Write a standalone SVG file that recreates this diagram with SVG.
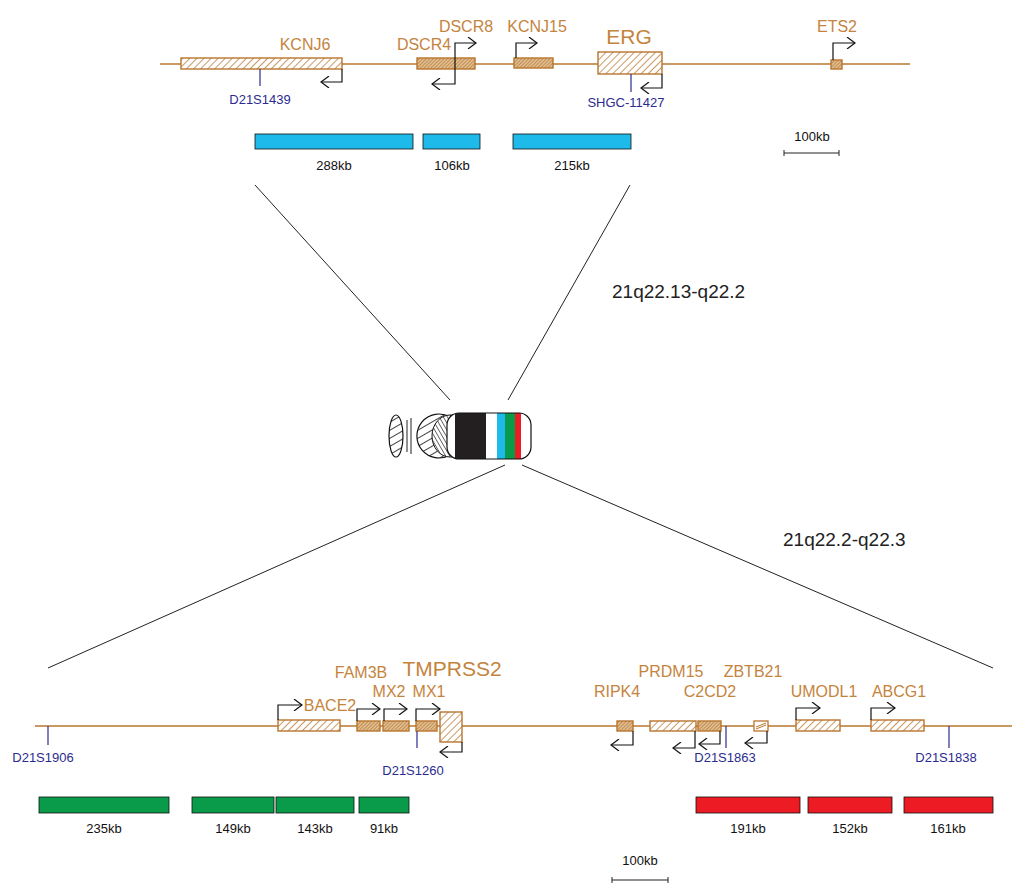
<svg xmlns="http://www.w3.org/2000/svg" width="1032" height="895" viewBox="0 0 1032 895">
<style>
.ax{stroke:#b8762e;stroke-width:1.3;fill:none}
.g{fill:url(#h);stroke:#b8762e;stroke-width:1.4}
.gf{fill:url(#hf);stroke:#b8762e;stroke-width:1.4}
.ar{stroke:#111;stroke-width:1.2;fill:none;marker-end:url(#a)}
.mk{stroke:#2b2b8f;stroke-width:1.2}
.gl{font-family:"Liberation Sans",Arial,sans-serif;font-size:16px;fill:#c4843e;text-anchor:middle}
.big{font-size:21px}
.ml{font-family:"Liberation Sans",Arial,sans-serif;font-size:13px;fill:#2b2b8f;text-anchor:middle}
.kb{font-family:"Liberation Sans",Arial,sans-serif;font-size:13px;fill:#111;text-anchor:middle}
.rg{font-family:"Liberation Sans",Arial,sans-serif;font-size:19px;fill:#222}
.ln{stroke:#222;stroke-width:1;fill:none}
</style>
<defs>
<pattern id="h" width="5" height="5" patternUnits="userSpaceOnUse" patternTransform="rotate(45)"><rect width="5" height="5" fill="#fff"/><line x1="0" y1="0" x2="0" y2="5" stroke="#b8762e" stroke-width="1.5"/></pattern>
<pattern id="hf" width="2.5" height="2.5" patternUnits="userSpaceOnUse" patternTransform="rotate(45)"><rect width="2.5" height="2.5" fill="#e0bb8c"/><line x1="0" y1="0" x2="0" y2="2.5" stroke="#a86a2a" stroke-width="1"/></pattern>
<pattern id="hk" width="7" height="7" patternUnits="userSpaceOnUse" patternTransform="rotate(60)"><rect width="7" height="7" fill="#fff"/><line x1="0" y1="0" x2="0" y2="7" stroke="#111" stroke-width="1.6"/></pattern>
<pattern id="hk2" width="3.5" height="3.5" patternUnits="userSpaceOnUse" patternTransform="rotate(-30)"><rect width="3.5" height="3.5" fill="#fff"/><line x1="0" y1="0" x2="0" y2="3.5" stroke="#111" stroke-width="1.2"/></pattern>
<marker id="a" markerWidth="12" markerHeight="12" refX="10" refY="6" orient="auto" markerUnits="userSpaceOnUse"><polyline points="2,0 10,6 2,12" fill="none" stroke="#111" stroke-width="1.2"/></marker>
<clipPath id="cc"><rect x="447" y="413" width="84" height="46" rx="12"/></clipPath>
</defs>

<g id="top-axis"><line class="ax" x1="160" y1="64" x2="910" y2="64"/></g>
<g id="KCNJ6"><rect class="g" x="181" y="58" width="161" height="11"/><path class="ar" d="M342,69 V82 H321"/><text class="gl" x="305" y="50">KCNJ6</text></g>
<g id="DSCR4"><rect class="gf" x="417" y="58" width="58" height="11"/><path class="ar" d="M455,64 V84 H432"/><text class="gl" x="424" y="50">DSCR4</text></g>
<g id="DSCR8"><path class="ar" d="M455,64 V43 H476"/><text class="gl" x="466" y="32">DSCR8</text></g>
<g id="KCNJ15"><rect class="gf" x="514" y="58" width="39" height="10"/><path class="ar" d="M516,58 V43 H537"/><text class="gl" x="537" y="32">KCNJ15</text></g>
<g id="ERG"><rect class="g" x="598" y="52" width="64" height="22"/><path class="ar" d="M662,74 V88 H641"/><text class="gl big" x="629" y="44">ERG</text></g>
<g id="ETS2"><rect class="gf" x="831" y="60" width="11" height="9"/><path class="ar" d="M833,60 V43 H855"/><text class="gl" x="837" y="32">ETS2</text></g>
<g id="D21S1439"><line class="mk" x1="260" y1="69" x2="260" y2="86"/><text class="ml" x="260" y="104">D21S1439</text></g>
<g id="SHGC-11427"><line class="mk" x1="631" y1="74" x2="631" y2="92"/><text class="ml" x="626" y="107">SHGC-11427</text></g>

<g id="blue-bars">
<rect x="255" y="134" width="158" height="15" fill="#1ebbea" stroke="#111" stroke-width="0.8"/>
<rect x="423" y="134" width="57" height="15" fill="#1ebbea" stroke="#111" stroke-width="0.8"/>
<rect x="513" y="134" width="118" height="15" fill="#1ebbea" stroke="#111" stroke-width="0.8"/>
<text class="kb" x="334" y="170">288kb</text><text class="kb" x="452" y="170">106kb</text><text class="kb" x="572" y="170">215kb</text>
</g>
<g id="scale-top"><path class="ln" d="M784,150 V156 M784,153 H839 M839,150 V156"/><text class="kb" x="812" y="141">100kb</text></g>

<g id="connectors">
<line class="ln" x1="255" y1="185" x2="450" y2="400"/>
<line class="ln" x1="630" y1="185" x2="508" y2="400"/>
<line class="ln" x1="505" y1="465" x2="48" y2="668"/>
<line class="ln" x1="522" y1="465" x2="993" y2="668"/>
</g>
<text class="rg" x="612" y="298">21q22.13-q22.2</text>
<text class="rg" x="783" y="546">21q22.2-q22.3</text>

<g id="chromosome">
<ellipse cx="396" cy="436" rx="7" ry="21" fill="url(#hk)" stroke="#111" stroke-width="1.2"/>
<line class="ln" x1="407" y1="420" x2="407" y2="452"/><line class="ln" x1="411" y1="418" x2="411" y2="454"/>
<path d="M450,417 A22,22 0 1 0 450,455 Z" fill="url(#hk)" stroke="#111" stroke-width="1.2"/>
<path d="M450,415 L456,415 L456,457 L450,457 A18,21 0 0 1 450,415 Z" fill="url(#hk2)" stroke="#111" stroke-width="1"/>
<g clip-path="url(#cc)">
<rect x="447" y="413" width="84" height="46" fill="#fff"/>
<rect x="455" y="413" width="31" height="46" fill="#231f20"/>
<rect x="497" y="413" width="8" height="46" fill="#1ebbea"/>
<rect x="505" y="413" width="10" height="46" fill="#0a9b4a"/>
<rect x="515" y="413" width="6" height="46" fill="#ed1c24"/>
</g>
<rect x="447" y="413" width="84" height="46" rx="12" fill="none" stroke="#111" stroke-width="1.2"/>
</g>

<g id="bottom-axis"><line class="ax" x1="35" y1="726" x2="1012" y2="726"/></g>
<g id="BACE2"><rect class="g" x="278" y="720" width="62" height="11"/><path class="ar" d="M278,720 V705 H302"/><text class="gl" x="330" y="711">BACE2</text></g>
<g id="FAM3B"><rect class="gf" x="357" y="721" width="23" height="10"/><path class="ar" d="M357,721 V709 H380"/><text class="gl" x="361" y="678">FAM3B</text></g>
<g id="MX2"><rect class="gf" x="383" y="721" width="26" height="10"/><path class="ar" d="M384,721 V709 H407"/><text class="gl" x="389" y="697">MX2</text></g>
<g id="MX1"><rect class="gf" x="416" y="721" width="21" height="10"/><path class="ar" d="M416,721 V709 H440"/><text class="gl" x="429" y="697">MX1</text></g>
<g id="TMPRSS2"><rect class="g" x="440" y="712" width="22" height="30"/><path class="ar" d="M462,742 V752 H440"/><text class="gl big" x="452" y="676">TMPRSS2</text></g>
<g id="RIPK4"><rect class="gf" x="617" y="721" width="16" height="10"/><path class="ar" d="M633,731 V745 H611"/><text class="gl" x="617" y="697">RIPK4</text></g>
<g id="PRDM15"><rect class="g" x="650" y="721" width="46" height="10"/><path class="ar" d="M695,731 V748 H673"/><text class="gl" x="671" y="677">PRDM15</text></g>
<g id="C2CD2"><rect class="gf" x="698" y="721" width="23" height="10"/><path class="ar" d="M720,731 V744 H699"/><text class="gl" x="710" y="697">C2CD2</text></g>
<g id="ZBTB21"><rect x="754" y="721" width="14" height="10" fill="#fff" stroke="#b8762e" stroke-width="1.3"/><path d="M756,727 L766,723 M756,729 L766,725" stroke="#b8762e" stroke-width="1"/><path class="ar" d="M767,731 V743 H745"/><text class="gl" x="753" y="677">ZBTB21</text></g>
<g id="UMODL1"><rect class="g" x="796" y="720" width="44" height="11"/><path class="ar" d="M796,720 V708 H820"/><text class="gl" x="824" y="697">UMODL1</text></g>
<g id="ABCG1"><rect class="g" x="871" y="720" width="53" height="11"/><path class="ar" d="M871,720 V708 H895"/><text class="gl" x="899" y="697">ABCG1</text></g>
<g id="D21S1906"><line class="mk" x1="48" y1="726" x2="48" y2="745"/><text class="ml" x="43" y="762">D21S1906</text></g>
<g id="D21S1260"><line class="mk" x1="417" y1="731" x2="417" y2="748"/><text class="ml" x="413" y="775">D21S1260</text></g>
<g id="D21S1863"><line class="mk" x1="726" y1="726" x2="726" y2="748"/><text class="ml" x="725" y="762">D21S1863</text></g>
<g id="D21S1838"><line class="mk" x1="949" y1="726" x2="949" y2="748"/><text class="ml" x="946" y="762">D21S1838</text></g>

<g id="green-bars">
<rect x="39" y="797" width="130" height="16" fill="#0a9b4a" stroke="#111" stroke-width="0.8"/>
<rect x="192" y="797" width="82" height="16" fill="#0a9b4a" stroke="#111" stroke-width="0.8"/>
<rect x="276" y="797" width="78" height="16" fill="#0a9b4a" stroke="#111" stroke-width="0.8"/>
<rect x="359" y="797" width="50" height="16" fill="#0a9b4a" stroke="#111" stroke-width="0.8"/>
<text class="kb" x="104" y="833">235kb</text><text class="kb" x="233" y="833">149kb</text><text class="kb" x="315" y="833">143kb</text><text class="kb" x="384" y="833">91kb</text>
</g>
<g id="red-bars">
<rect x="696" y="797" width="104" height="16" fill="#ed1c24" stroke="#111" stroke-width="0.8"/>
<rect x="808" y="797" width="84" height="16" fill="#ed1c24" stroke="#111" stroke-width="0.8"/>
<rect x="904" y="797" width="89" height="16" fill="#ed1c24" stroke="#111" stroke-width="0.8"/>
<text class="kb" x="748" y="833">191kb</text><text class="kb" x="850" y="833">152kb</text><text class="kb" x="948" y="833">161kb</text>
</g>
<g id="scale-bottom"><path class="ln" d="M612,877 V883 M612,880 H668 M668,877 V883"/><text class="kb" x="640" y="865">100kb</text></g>
</svg>
